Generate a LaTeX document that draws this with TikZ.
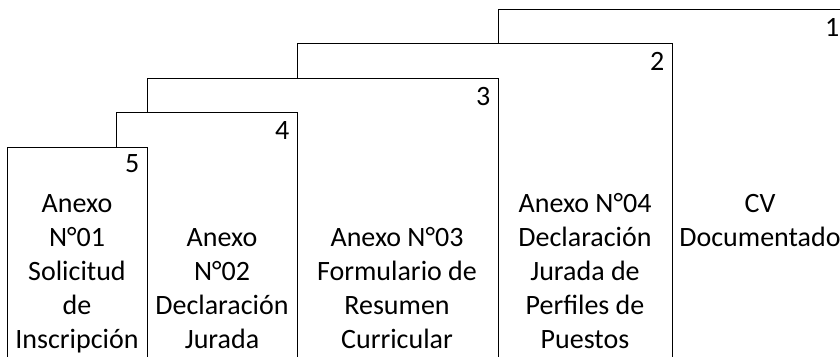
\documentclass[tikz,border=0pt]{standalone}
\usepackage{fontspec}
\setmainfont{Carlito}
\usetikzlibrary{positioning}
\tikzstyle{sheet}=[
	rectangle,
	draw=black,
	fill=white,
	line width=0.9pt,
	anchor=north west,
	minimum height=400pt,
	inner sep=0pt
]
\tikzstyle{number}=[
	inner sep=0pt,
	font=\fontsize{28}{34}\selectfont
]
\tikzstyle{caption}=[
	align=center,
	inner sep=0pt,
	anchor=base,
	font=\fontsize{28}{34}\selectfont
]

\begin{document}
\begin{tikzpicture}[x=1pt,y=1pt]
\useasboundingbox (0,0) rectangle (840,356);
\clip (0,0) rectangle (840,356);
% stacked sheets, back to front
\node [sheet, minimum width=349pt] (sheet1) at (498,347) {};
\node [number, below left=28pt and 8.5pt of sheet1.north east, anchor=base east] (num1) {1};
\node [caption] (text1) at (760,109) {CV\\Documentado};
\node [sheet, minimum width=375pt] (sheet2) at (297,313) {};
\node [number, below left=28pt and 8.5pt of sheet2.north east, anchor=base east] (num2) {2};
\node [caption] (text2) at (585,8) {Anexo N°04\\Declaración\\Jurada de\\Perfiles de\\Puestos};
\node [sheet, minimum width=351pt] (sheet3) at (147,278) {};
\node [number, below left=28pt and 8.5pt of sheet3.north east, anchor=base east] (num3) {3};
\node [caption] (text3) at (397,8) {Anexo N°03\\Formulario de\\Resumen\\Curricular};
\node [sheet, minimum width=181pt] (sheet4) at (116,244) {};
\node [number, below left=28pt and 8.5pt of sheet4.north east, anchor=base east] (num4) {4};
\node [caption] (text4) at (222,8) {Anexo\\N°02\\Declaración\\Jurada};
\node [sheet, minimum width=140pt] (sheet5) at (7,209) {};
\node [number, below left=26pt and 8.5pt of sheet5.north east, anchor=base east] (num5) {5};
\node [caption] (text5) at (77,8) {Anexo\\N°01\\Solicitud\\de\\Inscripción};
\end{tikzpicture}
\end{document}
